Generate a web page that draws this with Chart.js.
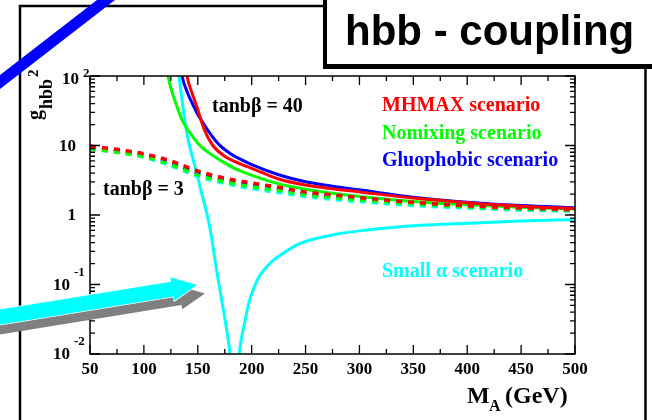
<!DOCTYPE html>
<html>
<head>
<meta charset="utf-8">
<script src="https://cdn.jsdelivr.net/npm/chart.js@4.4.1/dist/chart.umd.min.js"></script>
<style>
  html, body { margin: 0; padding: 0; background: #fff; }
  canvas { display: block; }
</style>
</head>
<body>
<canvas id="hbbChart" width="652" height="420"></canvas>
<script>
// tanb = 3 curves share one M_A grid (GeV)
const massLow = [50, 75, 100, 125, 150, 175, 200, 225, 250, 275, 300, 350, 400, 450, 500];
const mhmax3  = [9.8, 8.8, 7.6, 6.0, 4.3, 3.4, 2.9, 2.5, 2.15, 1.95, 1.78, 1.52, 1.36, 1.26, 1.19];
const nomix3  = [9.0, 8.0, 6.9, 5.3, 3.75, 3.0, 2.55, 2.25, 1.95, 1.78, 1.65, 1.44, 1.31, 1.22, 1.16];
const gluo3   = [9.3, 8.4, 7.3, 5.7, 4.0, 3.2, 2.7, 2.4, 2.05, 1.87, 1.72, 1.48, 1.34, 1.24, 1.18];
const small3  = [8.9, 8.0, 6.8, 5.1, 3.6, 2.85, 2.4, 2.1, 1.85, 1.68, 1.56, 1.37, 1.26, 1.18, 1.13];

// tanb = 40 curves
const massMhmax40 = [136, 140, 145, 150, 156, 164, 175, 190, 200, 225, 250, 275, 300, 350, 400, 450, 500];
const mhmax40     = [300, 100, 55, 33, 17, 10, 7.0, 5.4, 4.7, 3.3, 2.7, 2.38, 2.15, 1.75, 1.5, 1.34, 1.24];
const massNomix40 = [119, 122.5, 126, 130, 135, 141, 152, 160, 172, 185, 203, 225, 250, 275, 300, 350, 400, 450, 500];
const nomix40     = [300, 100, 60, 39, 24, 16.7, 10, 7.9, 6.0, 4.6, 3.6, 2.8, 2.35, 2.05, 1.85, 1.57, 1.4, 1.29, 1.22];
const massGluo40  = [131, 135.4, 140, 145, 150, 155, 160, 170, 180, 190, 200, 225, 250, 275, 300, 350, 400, 450, 500];
const gluo40      = [300, 100, 60, 40, 28, 21, 16, 10.2, 7.7, 6.3, 5.3, 3.8, 3.0, 2.6, 2.3, 1.8, 1.53, 1.37, 1.27];
// small-alpha coupling passes through zero near M_A = 184 GeV
const massSmall40 = [129, 132.6, 139.3, 147.4, 153.6, 159.8, 163, 167.5, 171.5, 175.3, 178, 180, 182, 184.2, 186.5, 188.5, 190, 193.8, 197.5, 201.5, 207, 214, 221, 229, 245, 276, 307, 338, 400, 450, 500];
const small40     = [300, 100, 16.7, 4.95, 2.05, 0.85, 0.45, 0.16, 0.069, 0.031, 0.017, 0.01, 0.004, 0.00001, 0.004, 0.01, 0.015, 0.03, 0.055, 0.085, 0.13, 0.18, 0.23, 0.28, 0.39, 0.52, 0.61, 0.68, 0.76, 0.82, 0.86];

const scenarioNames  = ['MHMAX scenario', 'Nomixing scenario', 'Gluophobic scenario', 'Small \u03b1 scenario'];
const scenarioColors = ['#ff0000', '#00ff00', '#0000ff', '#00ffff'];

const xTickValues = [50, 100, 150, 200, 250, 300, 350, 400, 450, 500];
const yDecades  = [0.01, 0.1, 1, 10, 100];
const yTickBase = ['10', '10', '1', '10', '10'];
const yTickExp  = ['-2', '-1', '', '', '2'];

function curve(mass, vals, color, dashed) {
  return {
    data: mass.map((m, i) => ({ x: m, y: vals[i] })),
    borderColor: color,
    borderWidth: dashed ? 3.5 : 3,
    borderDash: dashed ? [6, 6] : [],
    pointRadius: 0,
    cubicInterpolationMode: 'monotone',
    clip: 0,
    fill: false
  };
}

function arrow(ctx, tx, ty, hx, hy, shaftW, headLen, headW) {
  const len = Math.hypot(hx - tx, hy - ty);
  const ux = (hx - tx) / len, uy = (hy - ty) / len;
  const nx = -uy, ny = ux;
  const bx = hx - ux * headLen, by = hy - uy * headLen;
  ctx.beginPath();
  ctx.moveTo(tx + nx * shaftW / 2, ty + ny * shaftW / 2);
  ctx.lineTo(bx + nx * shaftW / 2, by + ny * shaftW / 2);
  ctx.lineTo(bx + nx * headW / 2, by + ny * headW / 2);
  ctx.lineTo(hx, hy);
  ctx.lineTo(bx - nx * headW / 2, by - ny * headW / 2);
  ctx.lineTo(bx - nx * shaftW / 2, by - ny * shaftW / 2);
  ctx.lineTo(tx - nx * shaftW / 2, ty - ny * shaftW / 2);
  ctx.closePath();
}

const serif = '"Liberation Serif", "DejaVu Serif", serif';

const decorations = {
  id: 'decorations',
  afterDraw(chart) {
    const { ctx, chartArea: a, scales: { x, y } } = chart;
    ctx.save();

    // plot frame
    ctx.strokeStyle = '#000';
    ctx.lineWidth = 1.5;
    ctx.strokeRect(a.left, a.top, a.right - a.left, a.bottom - a.top);

    // inward ticks, bottom/top
    ctx.lineWidth = 1.3;
    ctx.beginPath();
    for (let m = x.min; m <= x.max; m += 25) {
      const px = x.getPixelForValue(m);
      const len = m % 50 === 0 ? 9 : 5;
      ctx.moveTo(px, a.bottom); ctx.lineTo(px, a.bottom - len);
      ctx.moveTo(px, a.top); ctx.lineTo(px, a.top + len);
    }
    // log ticks, left/right
    yDecades.forEach(d => {
      for (let k = 1; k <= 9; k++) {
        const v = d * k;
        if (v > y.max * 1.0001) break;
        const py = y.getPixelForValue(v);
        const len = k === 1 ? 10 : 5;
        ctx.moveTo(a.left, py); ctx.lineTo(a.left + len, py);
        ctx.moveTo(a.right, py); ctx.lineTo(a.right - len, py);
      }
    });
    ctx.stroke();

    // x tick labels
    ctx.fillStyle = '#000';
    ctx.font = 'bold 17px ' + serif;
    ctx.textAlign = 'center';
    ctx.textBaseline = 'alphabetic';
    xTickValues.forEach(v => ctx.fillText(String(v), x.getPixelForValue(v), a.bottom + 20));

    // y tick labels with exponents
    yDecades.forEach((v, i) => {
      const py = y.getPixelForValue(v);
      ctx.textBaseline = 'middle';
      if (yTickExp[i]) {
        // the top label sits lower so it stays inside the figure
        const top = i === yDecades.length - 1;
        const bx = top ? 79 : 70;
        const dy = top ? 4 : 1;
        ctx.font = 'bold 17px ' + serif;
        ctx.textAlign = 'right';
        ctx.fillText(yTickBase[i], bx, py + dy);
        ctx.font = 'bold 13px ' + serif;
        ctx.textAlign = 'left';
        ctx.fillText(yTickExp[i], bx + 4, py + dy - (top ? 6 : 13));
      } else {
        ctx.font = 'bold 17px ' + serif;
        ctx.textAlign = 'right';
        ctx.fillText(yTickBase[i], 76, py + 1);
      }
    });

    // x axis title: M_A (GeV)
    ctx.textAlign = 'left';
    ctx.textBaseline = 'alphabetic';
    ctx.font = 'bold 24px ' + serif;
    ctx.fillText('M', 467, 403);
    ctx.font = 'bold 16px ' + serif;
    ctx.fillText('A', 489, 411);
    ctx.font = 'bold 24px ' + serif;
    ctx.fillText('(GeV)', 505, 403);

    // y axis title: g_hbb^2, rotated
    ctx.save();
    ctx.translate(41, 120);
    ctx.rotate(-Math.PI / 2);
    ctx.font = 'bold 20px ' + serif;
    ctx.fillText('g', 0, 0);
    const gw = ctx.measureText('g').width;
    ctx.font = 'bold 18px ' + serif;
    ctx.fillText('hbb', gw + 1, 11);
    const hw = ctx.measureText('hbb').width;
    ctx.font = 'bold 15px ' + serif;
    ctx.fillText('2', gw + hw + 3, -3);
    ctx.restore();

    // in-plot labels
    ctx.font = 'bold 20px ' + serif;
    ctx.fillStyle = '#000';
    ctx.fillText('tanb\u03b2 = 40', 212, 112);
    ctx.fillText('tanb\u03b2 = 3', 103, 195);
    const legendY = [111, 138.5, 166, 277];
    scenarioNames.forEach((name, i) => {
      ctx.fillStyle = scenarioColors[i];
      ctx.fillText(name, 382, legendY[i]);
    });

    // outer frame
    ctx.strokeStyle = '#000';
    ctx.lineWidth = 2.5;
    ctx.beginPath();
    ctx.moveTo(20, 425); ctx.lineTo(20, 6); ctx.lineTo(325, 6);
    ctx.moveTo(645.5, 66); ctx.lineTo(645.5, 425);
    ctx.stroke();

    // title box
    ctx.fillStyle = '#000';
    ctx.fillRect(323, -5, 340, 74);
    ctx.fillStyle = '#fff';
    ctx.fillRect(327, -5, 340, 69);
    ctx.fillStyle = '#000';
    ctx.font = 'bold 42px "Liberation Sans", Arial, sans-serif';
    ctx.fillText('hbb - coupling', 345, 45);

    // blue stroke in the corner
    ctx.strokeStyle = '#0000ff';
    ctx.lineWidth = 11;
    ctx.lineCap = 'butt';
    ctx.beginPath();
    ctx.moveTo(-12, 91.3); ctx.lineTo(118, -9.3);
    ctx.stroke();

    // arrows: grey shadow then cyan
    ctx.fillStyle = '#808080';
    arrow(ctx, -10 + 8, 318.8 + 8.5, 197 + 8, 285 + 8.5, 15, 25, 24);
    ctx.fill();
    ctx.fillStyle = '#00ffff';
    ctx.strokeStyle = '#ffffff';
    ctx.lineWidth = 1.5;
    arrow(ctx, -10, 318.8, 197, 285, 15, 25, 24);
    ctx.stroke();
    ctx.fill();

    ctx.restore();
  }
};

const datasets = [
  curve(massLow, mhmax3, scenarioColors[0], true),
  curve(massLow, nomix3, scenarioColors[1], true),
  curve(massLow, gluo3, scenarioColors[2], true),
  curve(massLow, small3, scenarioColors[3], true),
  curve(massMhmax40, mhmax40, scenarioColors[0], false),
  curve(massNomix40, nomix40, scenarioColors[1], false),
  curve(massGluo40, gluo40, scenarioColors[2], false),
  curve(massSmall40, small40, scenarioColors[3], false)
];

new Chart(document.getElementById('hbbChart').getContext('2d'), {
  type: 'line',
  data: { datasets },
  options: {
    responsive: false,
    animation: false,
    layout: { padding: { left: 90, top: 76, right: 77, bottom: 66 } },
    plugins: { legend: { display: false }, tooltip: { enabled: false } },
    scales: {
      x: { type: 'linear', min: 50, max: 500, display: false },
      y: { type: 'logarithmic', min: 0.01, max: 100, display: false }
    }
  },
  plugins: [decorations]
});
</script>
</body>
</html>
